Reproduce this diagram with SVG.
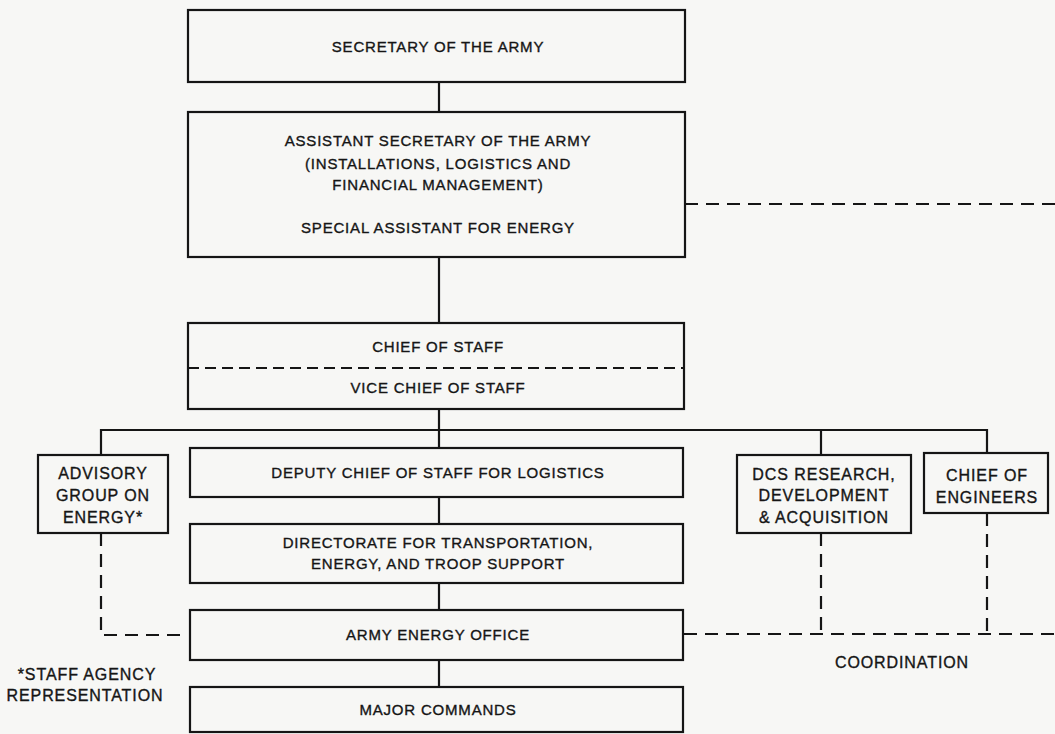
<svg xmlns="http://www.w3.org/2000/svg" width="1055" height="734" viewBox="0 0 1055 734">
<style>
.box{fill:none;stroke:#151515;stroke-width:2.2}
.ln{fill:none;stroke:#151515;stroke-width:2.2}
.dl{fill:none;stroke:#151515;stroke-width:2.2;stroke-dasharray:13 8}
.t{font-family:"Liberation Sans",Arial,sans-serif;font-size:15px;letter-spacing:0.8px;fill:#151515;stroke:#151515;stroke-width:0.35;text-anchor:middle}
.s{font-family:"Liberation Sans",Arial,sans-serif;font-size:16px;letter-spacing:0.9px;fill:#151515;stroke:#151515;stroke-width:0.35;text-anchor:middle}
</style>
<rect width="1055" height="734" fill="#f7f7f5"/>
<g id="connectors">
<path class="ln" d="M439 82V112M439 257V323M439 409V448M439 497V524M439 583V610M439 660V687"/>
<path class="ln" d="M101 455V430H987V453M821 430V455"/>
<path class="dl" d="M685 204H1055"/>
<path class="dl" d="M101 533V635H188"/>
<path class="dl" d="M821 533V634M987 513V634M684 634H1055"/>
</g>
<g id="secretary">
<rect class="box" x="188" y="10" width="497" height="72"/>
<text class="t" x="438" y="52">SECRETARY OF THE ARMY</text>
</g>
<g id="assistant-secretary">
<rect class="box" x="188" y="112" width="497" height="145"/>
<text class="t" x="438" y="146">ASSISTANT SECRETARY OF THE ARMY</text>
<text class="t" x="438" y="169">(INSTALLATIONS, LOGISTICS AND</text>
<text class="t" x="438" y="190">FINANCIAL MANAGEMENT)</text>
<text class="t" x="438" y="233">SPECIAL ASSISTANT FOR ENERGY</text>
</g>
<g id="chief-of-staff">
<rect class="box" x="188" y="323" width="496" height="86"/>
<line x1="188" y1="368" x2="684" y2="368" stroke="#151515" stroke-width="2.2" stroke-dasharray="11 6"/>
<text class="t" x="438" y="352">CHIEF OF STAFF</text>
<text class="t" x="438" y="393">VICE CHIEF OF STAFF</text>
</g>
<g id="advisory-group">
<rect class="box" x="38" y="455" width="130" height="78"/>
<text class="s" x="103" y="479">ADVISORY</text>
<text class="s" x="103" y="501">GROUP ON</text>
<text class="s" x="103" y="523">ENERGY*</text>
</g>
<g id="dcs-logistics">
<rect class="box" x="190" y="448" width="493" height="49"/>
<text class="t" x="438" y="478">DEPUTY CHIEF OF STAFF FOR LOGISTICS</text>
</g>
<g id="dcs-rda">
<rect class="box" x="737" y="455" width="174" height="78"/>
<text class="s" x="824" y="480">DCS RESEARCH,</text>
<text class="s" x="824" y="501">DEVELOPMENT</text>
<text class="s" x="824" y="523">&amp; ACQUISITION</text>
</g>
<g id="chief-of-engineers">
<rect class="box" x="924" y="453" width="124" height="60"/>
<text class="s" x="987" y="481">CHIEF OF</text>
<text class="s" x="987" y="503">ENGINEERS</text>
</g>
<g id="directorate">
<rect class="box" x="190" y="524" width="493" height="59"/>
<text class="t" x="438" y="548">DIRECTORATE FOR TRANSPORTATION,</text>
<text class="t" x="438" y="569">ENERGY, AND TROOP SUPPORT</text>
</g>
<g id="army-energy-office">
<rect class="box" x="190" y="610" width="493" height="50"/>
<text class="t" x="438" y="640">ARMY ENERGY OFFICE</text>
</g>
<g id="major-commands">
<rect class="box" x="190" y="687" width="493" height="45"/>
<text class="t" x="438" y="715">MAJOR COMMANDS</text>
</g>
<g id="notes">
<text class="s" x="87" y="680">*STAFF AGENCY</text>
<text class="s" x="85" y="701">REPRESENTATION</text>
<text class="s" x="902" y="668">COORDINATION</text>
</g>
</svg>
